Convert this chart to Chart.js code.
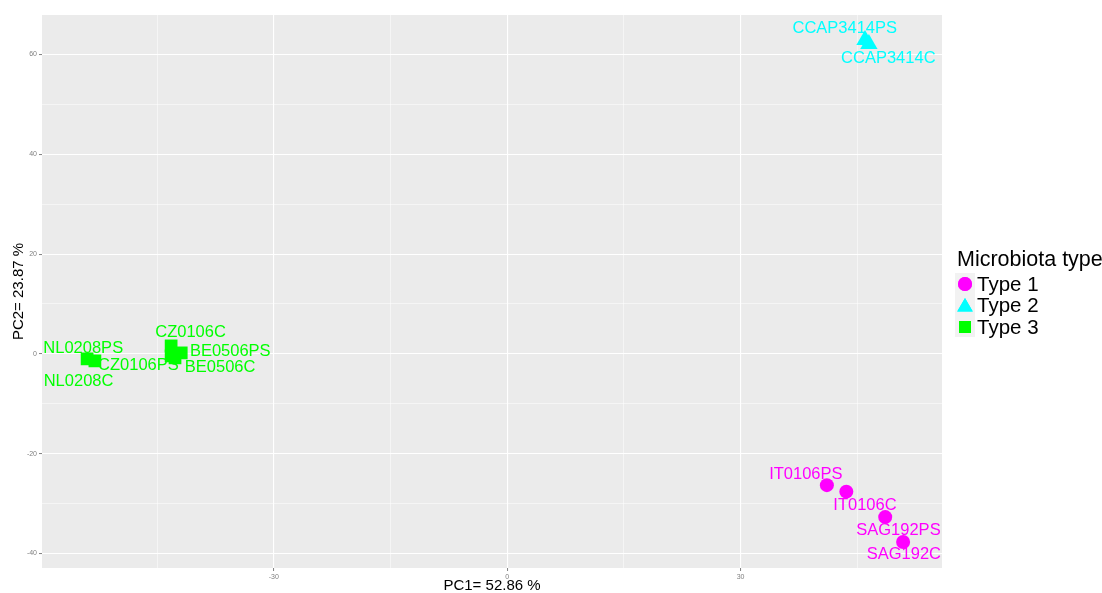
<!DOCTYPE html>
<html>
<head>
<meta charset="utf-8">
<script src="https://cdn.jsdelivr.net/npm/chart.js@4/dist/chart.umd.min.js"></script>
<style>
  html, body { margin: 0; padding: 0; background: #ffffff; }
  #wrap { width: 1102px; height: 593px; position: relative; }
</style>
</head>
<body>
<div id="wrap"><canvas id="pca" width="1102" height="593"></canvas></div>
<script>
// PCA scores per sample (PC1, PC2), grouped by microbiota type
const type1Names = ['IT0106PS', 'IT0106C', 'SAG192PS', 'SAG192C'];
const type1PC1 = [41.1, 43.6, 48.6, 50.9];
const type1PC2 = [-26.3, -27.6, -32.7, -37.7];
const type1LabelPC1 = [38.4, 46.0, 50.3, 51.0];
const type1LabelPC2 = [-24.2, -30.3, -35.3, -40.1];

const type2Names = ['CCAP3414PS', 'CCAP3414C'];
const type2PC1 = [46.0, 46.5];
const type2PC2 = [62.9, 62.1];
const type2LabelPC1 = [43.4, 49.0];
const type2LabelPC2 = [65.3, 59.1];

const type3Names = ['NL0208PS', 'NL0208C', 'CZ0106PS', 'CZ0106C', 'BE0506PS', 'BE0506C'];
const type3PC1 = [-54.0, -53.0, -43.2, -43.2, -41.9, -42.7];
const type3PC2 = [-1.0, -1.4, -0.4, 1.6, 0.2, -0.8];
const type3LabelPC1 = [-54.5, -55.1, -47.4, -40.7, -35.6, -36.9];
const type3LabelPC2 = [1.0, -5.6, -2.4, 4.2, 0.4, -2.8];

const xTickValues = [-45, -30, -15, 0, 15, 30, 45];
const xTickLabels = ['-30', '0', '30'];
const yTickValues = [-40, -30, -20, -10, 0, 10, 20, 30, 40, 50, 60];
const yTickLabels = ['-40', '-20', '0', '20', '40', '60'];

const legendTitle = 'Microbiota type';
const legendLabels = ['Type 1', 'Type 2', 'Type 3'];
const xTitle = 'PC1= 52.86 %';
const yTitle = 'PC2= 23.87 %';

const MAGENTA = '#ff00ff', CYAN = '#00ffff', GREEN = '#00ff00';
const FONT = '"Liberation Sans", Arial, sans-serif';

function toPoints(xs, ys, names, lx, ly) {
  return xs.map((x, i) => ({ x: x, y: ys[i], name: names[i], lx: lx[i], ly: ly[i] }));
}

const isLabelled = (v, list) => list.includes(String(v));

// grey panel behind the plot
const panelPlugin = {
  id: 'panel',
  beforeDraw(chart) {
    const { ctx, chartArea: a } = chart;
    ctx.save();
    ctx.fillStyle = '#ebebeb';
    ctx.fillRect(a.left, a.top, a.right - a.left, a.bottom - a.top);
    ctx.restore();
  }
};

// sample names, axis titles and the legend
const annotatePlugin = {
  id: 'annotate',
  afterDatasetsDraw(chart) {
    const { ctx, scales: { x, y } } = chart;
    ctx.save();
    ctx.font = '16.5px ' + FONT;
    ctx.textAlign = 'center';
    ctx.textBaseline = 'middle';
    chart.data.datasets.forEach(ds => {
      ctx.fillStyle = ds.backgroundColor;
      ds.data.forEach(p => {
        ctx.fillText(p.name, x.getPixelForValue(p.lx), y.getPixelForValue(p.ly));
      });
    });
    ctx.restore();
  },
  afterDraw(chart) {
    const { ctx, chartArea: a } = chart;
    ctx.save();
    ctx.fillStyle = '#000000';
    ctx.textBaseline = 'middle';
    ctx.textAlign = 'center';
    ctx.font = '15px ' + FONT;
    ctx.fillText(xTitle, (a.left + a.right) / 2, 586);
    ctx.translate(19, (a.top + a.bottom) / 2);
    ctx.rotate(-Math.PI / 2);
    ctx.fillText(yTitle, 0, 0);
    ctx.restore();

    // legend
    ctx.save();
    ctx.textAlign = 'left';
    ctx.textBaseline = 'middle';
    ctx.fillStyle = '#000000';
    ctx.font = '21.5px ' + FONT;
    ctx.fillText(legendTitle, 957, 260);
    ctx.fillStyle = '#f2f2f2';
    ctx.fillRect(955, 273, 20, 64);
    const styles = [
      { style: 'circle', r: 7, c: MAGENTA },
      { style: 'triangle', r: 9, c: CYAN },
      { style: 'rect', r: 8.5, c: GREEN }
    ];
    legendLabels.forEach((lab, i) => {
      const cy = 284 + i * 21.5;
      const s = styles[i];
      ctx.fillStyle = s.c;
      Chart.helpers.drawPoint(ctx, { pointStyle: s.style, radius: s.r, borderWidth: 0 }, 965, cy + (s.style === 'triangle' ? 1.5 : 0));
      ctx.fill();
      ctx.fillStyle = '#000000';
      ctx.font = '20.5px ' + FONT;
      ctx.fillText(lab, 977, cy + 1);
    });
    ctx.restore();
  }
};

const gridColor = '#ffffff';

new Chart(document.getElementById('pca'), {
  type: 'scatter',
  data: {
    datasets: [
      {
        label: legendLabels[0],
        data: toPoints(type1PC1, type1PC2, type1Names, type1LabelPC1, type1LabelPC2),
        backgroundColor: MAGENTA, borderColor: MAGENTA, borderWidth: 0,
        pointStyle: 'circle', pointRadius: 7, pointHoverRadius: 7
      },
      {
        label: legendLabels[1],
        data: toPoints(type2PC1, type2PC2, type2Names, type2LabelPC1, type2LabelPC2),
        backgroundColor: CYAN, borderColor: CYAN, borderWidth: 0,
        pointStyle: 'triangle', pointRadius: 10, pointHoverRadius: 10
      },
      {
        label: legendLabels[2],
        data: toPoints(type3PC1, type3PC2, type3Names, type3LabelPC1, type3LabelPC2),
        backgroundColor: GREEN, borderColor: GREEN, borderWidth: 0,
        pointStyle: 'rect', pointRadius: 9, pointHoverRadius: 9
      }
    ]
  },
  options: {
    responsive: false,
    animation: false,
    layout: { padding: { left: 0, right: 160, top: 15, bottom: 0 } },
    plugins: { legend: { display: false }, tooltip: { enabled: false } },
    scales: {
      x: {
        type: 'linear',
        min: -59.8, max: 55.9,
        border: { display: false },
        afterBuildTicks(scale) { scale.ticks = xTickValues.map(v => ({ value: v })); },
        afterFit(scale) { scale.height = 25; },
        ticks: {
          autoSkip: false, maxRotation: 0,
          padding: 2,
          color: '#7f7f7f',
          font: { size: 7, family: FONT },
          callback: v => isLabelled(v, xTickLabels) ? String(v) : ''
        },
        grid: {
          color: gridColor,
          lineWidth: ctx => isLabelled(ctx.tick && ctx.tick.value, xTickLabels) ? 1.1 : 0.5,
          tickColor: ctx => isLabelled(ctx.tick && ctx.tick.value, xTickLabels) ? '#7f7f7f' : 'rgba(0,0,0,0)',
          tickLength: 3,
          tickWidth: 1
        }
      },
      y: {
        type: 'linear',
        min: -42.9, max: 67.9,
        border: { display: false },
        afterBuildTicks(scale) { scale.ticks = yTickValues.map(v => ({ value: v })); },
        afterFit(scale) { scale.width = 42; },
        ticks: {
          autoSkip: false,
          padding: 2,
          color: '#7f7f7f',
          font: { size: 7, family: FONT },
          callback: v => isLabelled(v, yTickLabels) ? String(v) : ''
        },
        grid: {
          color: gridColor,
          lineWidth: ctx => isLabelled(ctx.tick && ctx.tick.value, yTickLabels) ? 1.1 : 0.5,
          tickColor: ctx => isLabelled(ctx.tick && ctx.tick.value, yTickLabels) ? '#7f7f7f' : 'rgba(0,0,0,0)',
          tickLength: 3,
          tickWidth: 1
        }
      }
    }
  },
  plugins: [panelPlugin, annotatePlugin]
});
</script>
</body>
</html>
